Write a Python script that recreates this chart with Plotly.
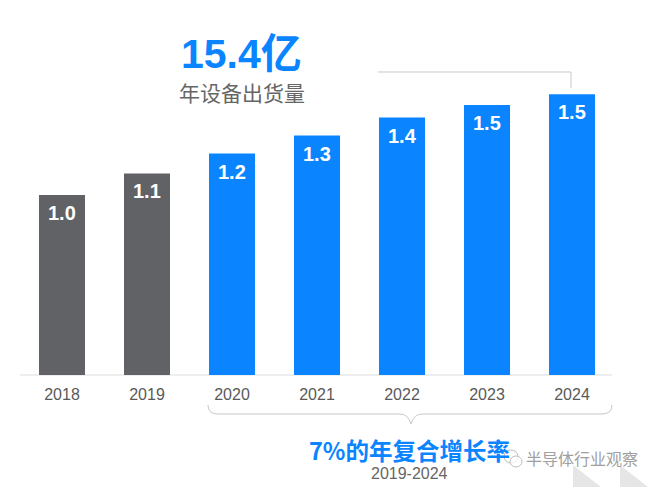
import plotly.graph_objects as go

years = ["2018", "2019", "2020", "2021", "2022", "2023", "2024"]
shipments = [1.0, 1.12, 1.23, 1.33, 1.43, 1.5, 1.56]
value_labels = ["1.0", "1.1", "1.2", "1.3", "1.4", "1.5", "1.5"]
bar_colors = ["#616266", "#616266", "#0A84FF", "#0A84FF", "#0A84FF", "#0A84FF", "#0A84FF"]

W, H = 660, 487
BASE = 375
PX_PER_UNIT = 180
LATIN = "Liberation Sans, Arial, Noto Sans CJK SC"
CJK = "Noto Sans CJK SC, Liberation Sans"
BLUE = "#0A84FF"


def px(x):
    return x / W


def py(y):
    return 1 - y / H


def path(points, closed=False):
    d = "M" + " L".join(f"{px(x):.5f},{py(y):.5f}" for x, y in points)
    return d + (" Z" if closed else "")


def text(x, y, s, size, color, family=CJK, weight=400):
    return dict(x=px(x), y=py(y), xref="paper", yref="paper", text=s, showarrow=False,
                xanchor="center", yanchor="middle",
                font=dict(size=size, color=color, family=family, weight=weight))


fig = go.Figure(go.Bar(x=list(range(len(years))), y=shipments, width=46 / 85,
                       marker=dict(color=bar_colors, line_width=0), hoverinfo="skip"))

annotations = [
    dict(x=i, y=v, xref="x", yref="y", yshift=-18, text=l, showarrow=False,
         font=dict(size=20, color="white", family=LATIN, weight=700))
    for i, (v, l) in enumerate(zip(shipments, value_labels))
]
annotations += [
    text(242, 54, "15.4亿", 41, BLUE, LATIN, weight=700),
    text(242, 92, "年设备出货量", 21, "#666666"),
    text(409, 450, "7%的年复合增长率", 23.5, BLUE, weight=700),
    text(409, 473, "2019-2024", 16, "#666666", LATIN),
    text(582, 458, "半导体行业观察", 16, "#A0A0A0"),
]

line_grey = dict(color="#C8C8C8", width=1)
bracket = (
    f"M{px(208):.5f},{py(405):.5f} Q{px(208):.5f},{py(414):.5f} {px(218):.5f},{py(414):.5f} "
    f"L{px(400):.5f},{py(414):.5f} Q{px(408):.5f},{py(414):.5f} {px(411):.5f},{py(424):.5f} "
    f"Q{px(414):.5f},{py(414):.5f} {px(422):.5f},{py(414):.5f} "
    f"L{px(602):.5f},{py(414):.5f} Q{px(612):.5f},{py(414):.5f} {px(612):.5f},{py(405):.5f}"
)
shapes = [
    dict(type="path", xref="paper", yref="paper", path=path([(573, 465), (601, 487), (573, 487)], True),
         fillcolor="#E6E6E6", line_width=0, layer="below"),
    dict(type="path", xref="paper", yref="paper", path=path([(620, 465), (648, 487), (620, 487)], True),
         fillcolor="#E6E6E6", line_width=0, layer="below"),
    dict(type="path", xref="paper", yref="paper", path=path([(20, BASE), (612, BASE)]),
         line=dict(color="#DCDCDC", width=1), layer="below"),
    dict(type="path", xref="paper", yref="paper", path=path([(378, 72), (571, 72), (571, 88)]),
         line=line_grey),
    dict(type="path", xref="paper", yref="paper", path=bracket, line=line_grey),
    dict(type="circle", xref="paper", yref="paper", x0=px(504), x1=px(518), y0=py(463), y1=py(450),
         line=dict(color="#BDBDBD", width=1), fillcolor="rgba(255,255,255,0.75)"),
    dict(type="circle", xref="paper", yref="paper", x0=px(510), x1=px(522), y0=py(467), y1=py(456),
         line=dict(color="#BDBDBD", width=1), fillcolor="rgba(255,255,255,0.75)"),
]

fig.update_layout(
    width=W, height=H, margin=dict(l=0, r=0, t=0, b=0),
    paper_bgcolor="white", plot_bgcolor="rgba(0,0,0,0)", showlegend=False,
    annotations=annotations, shapes=shapes,
    xaxis=dict(range=[-62 / 85, (W - 62) / 85], tickmode="array",
               tickvals=list(range(len(years))), ticktext=years, showgrid=False, zeroline=False,
               showline=False, ticks="outside", ticklen=5, tickcolor="rgba(0,0,0,0)",
               tickfont=dict(size=16, color="#595959", family=LATIN)),
    yaxis=dict(domain=[1 - BASE / H, 1], range=[0, BASE / PX_PER_UNIT], visible=False),
)

fig.write_html("out.html", config={"displayModeBar": False},
               post_script="document.body.style.margin='0';document.documentElement.style.overflow='hidden';")
